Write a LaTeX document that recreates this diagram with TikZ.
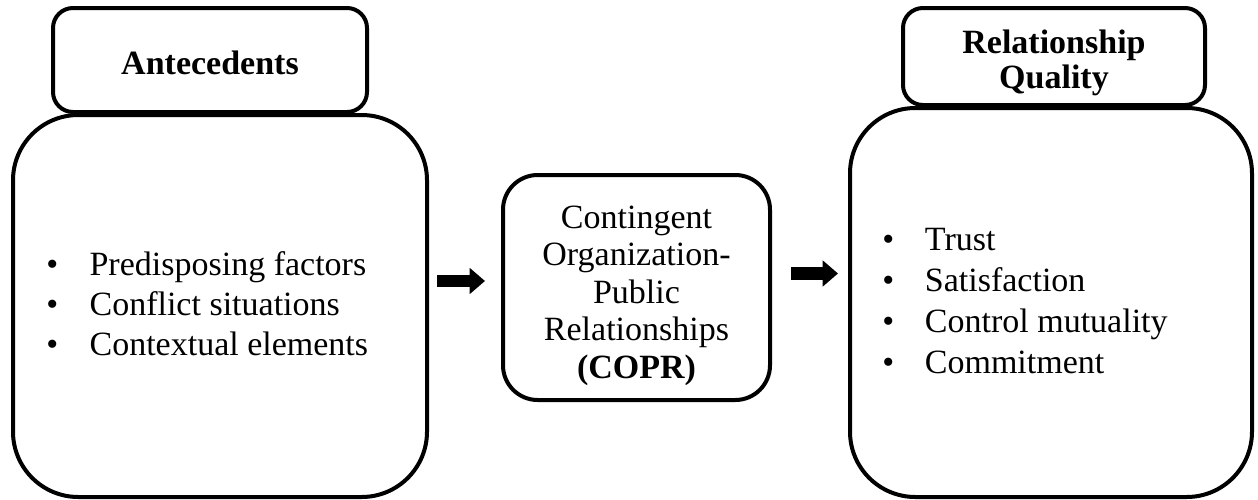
\documentclass[tikz,border=0pt]{standalone}
\usepackage{fontspec}
\setmainfont{Liberation Serif}
\usetikzlibrary{arrows.meta}
\begin{document}
\begin{tikzpicture}[x=0.75pt,y=-0.75pt,
  box/.style={draw,line width=3pt,rounded corners=#1,fill=white,inner sep=0pt},
  txt/.style={font=\fontsize{25.5}{30}\selectfont,inner sep=0pt},
  blockarr/.style={line width=9.5pt,-{Triangle[length=11.5pt,width=19pt]}}]
\useasboundingbox (0,0) rectangle (1258,500);
% left
\node[box=49pt,minimum width=310.5pt,minimum height=286.5pt] (ante) at (220,306) {};
\node[box=15pt,minimum width=235.5pt,minimum height=78pt] (antehead) at (210,60) {};
\node[txt,anchor=base,font=\fontsize{25.5}{30}\selectfont\bfseries] (antetitle) at (210,74) {Antecedents};
\node[txt,anchor=base west,align=left] (antelist) at (46,355)
  {\makebox[32.5pt][l]{\textbullet}Predisposing factors\\
   \makebox[32.5pt][l]{\textbullet}Conflict situations\\
   \makebox[32.5pt][l]{\textbullet}Contextual elements};
% middle
\node[box=26pt,minimum width=200.25pt,minimum height=168.75pt] (copr) at (636.5,287.5) {};
\node[txt,anchor=base,align=center,font=\fontsize{25.5}{28.1}\selectfont] (coprtext) at (636.5,378)
  {Contingent\\Organization-\\Public\\Relationships\\\textbf{(COPR)}};
% right
\node[box=49pt,minimum width=301.5pt,minimum height=291.75pt] (rq) at (1051,302.5) {};
\node[box=15pt,minimum width=226.5pt,minimum height=72.75pt] (rqhead) at (1054,56.5) {};
\node[txt,anchor=base,align=center,font=\fontsize{25.5}{26.25}\selectfont\bfseries] (rqtitle) at (1054,88)
  {Relationship\\Quality};
\node[txt,anchor=base west,align=left,font=\fontsize{25.5}{30.75}\selectfont] (rqlist) at (882,373)
  {\makebox[32pt][l]{\textbullet}Trust\\
   \makebox[32pt][l]{\textbullet}Satisfaction\\
   \makebox[32pt][l]{\textbullet}Control mutuality\\
   \makebox[32pt][l]{\textbullet}Commitment};
% arrows
\coordinate (a1s) at (437,281);
\coordinate (a1e) at (485,281);
\coordinate (a2s) at (791,273.5);
\coordinate (a2e) at (838,273.5);
\draw[blockarr] (a1s) -- (a1e);
\draw[blockarr] (a2s) -- (a2e);
\end{tikzpicture}
\end{document}
